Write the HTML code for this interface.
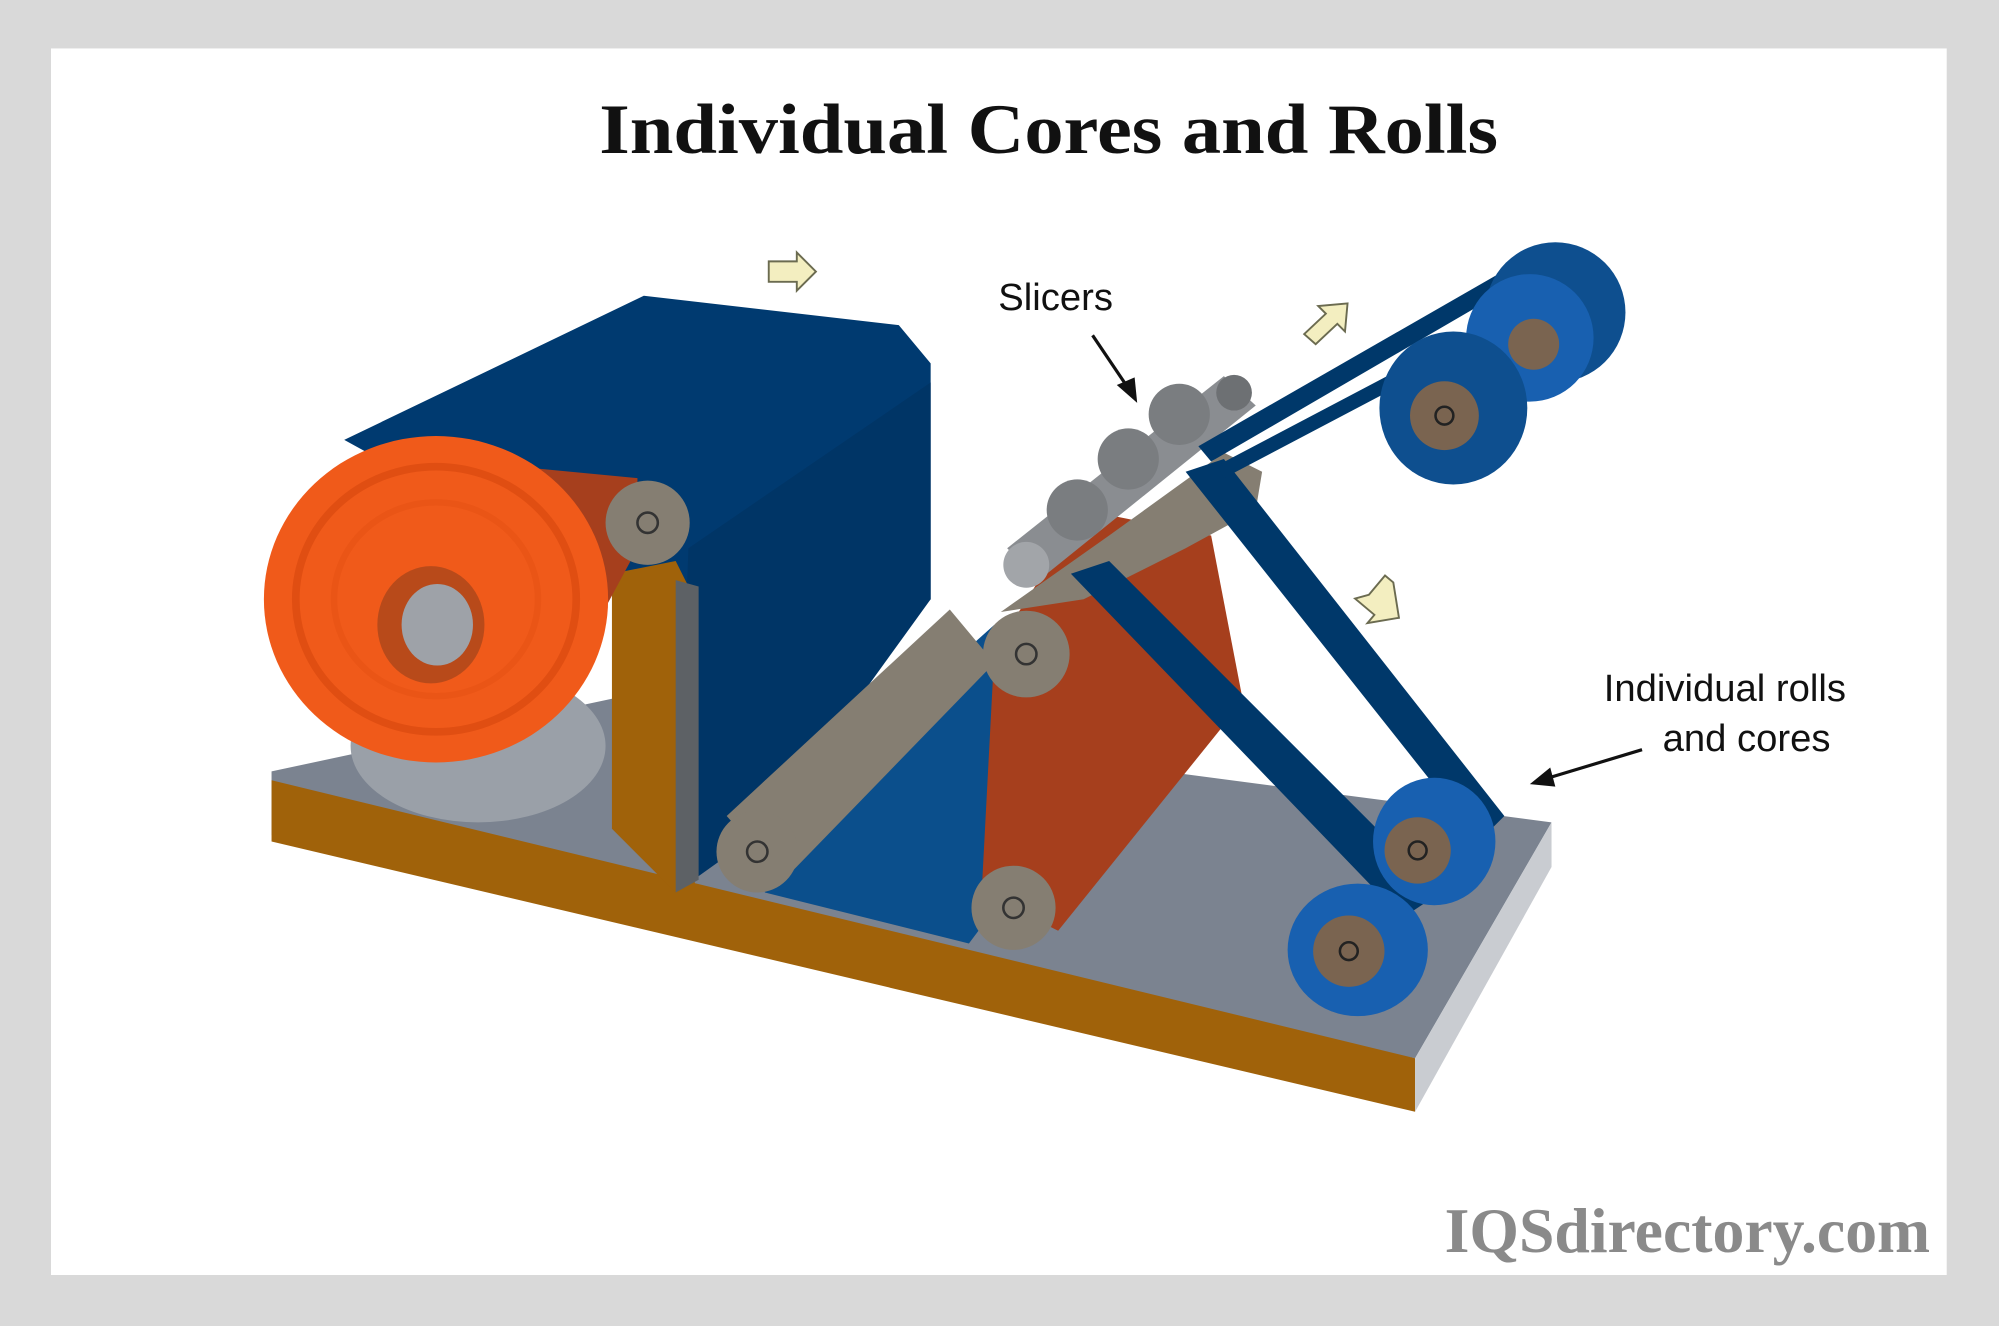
<!DOCTYPE html>
<html><head><meta charset="utf-8"><style>
html,body{margin:0;padding:0;background:#d9d9d9;}
svg{display:block}
</style></head><body>
<svg width="1999" height="1326" viewBox="0 0 1568 1040" preserveAspectRatio="none" xmlns="http://www.w3.org/2000/svg">
<rect x="0" y="0" width="1568" height="1040" fill="#d9d9d9"/>
<rect x="40" y="38" width="1487" height="962" fill="#ffffff"/>
<text x="470" y="120" textLength="705" lengthAdjust="spacingAndGlyphs" font-family="Liberation Serif, serif" font-weight="bold" font-size="56" fill="#111">Individual Cores and Rolls</text>

<!-- base -->
<polygon points="213,605 480,548 1217,645 1110,830 213,655" fill="#7b8390"/>
<polygon points="213,612 1110,830 1110,872 213,660" fill="#a0620a"/>
<polygon points="1110,830 1217,645 1217,680 1110,872" fill="#c9ccd1"/>

<!-- big blue body -->
<polygon points="270,345 505,232 705,255 730,285 730,470 560,640 530,700 480,460" fill="#003a70"/>
<polygon points="540,430 730,300 730,470 600,650 530,700" fill="#003566"/>
<!-- support block -->
<polygon points="480,450 530,440 545,470 545,700 530,700 480,650" fill="#a0620a"/>
<polygon points="530,455 548,460 548,690 530,700" fill="#5d6165"/>
<!-- gray shadow under roll -->
<ellipse cx="375" cy="585" rx="100" ry="60" fill="#9aa0a8"/>
<!-- orange sheet to top roller -->
<polygon points="290,355 500,375 500,430 430,560" fill="#a63f1d"/>
<!-- big orange roll -->
<ellipse cx="342" cy="470" rx="135" ry="128" fill="#f05a1a"/>
<ellipse cx="342" cy="470" rx="110" ry="104" fill="none" stroke="#e04e12" stroke-width="6"/>
<ellipse cx="342" cy="470" rx="80" ry="76" fill="none" stroke="#ea5516" stroke-width="5"/>
<ellipse cx="338" cy="490" rx="42" ry="46" fill="#b84a1a"/>
<ellipse cx="343" cy="490" rx="28" ry="32" fill="#9ea2a8"/>
<!-- top roller -->
<circle cx="508" cy="410" r="33" fill="#857e72"/>
<circle cx="508" cy="410" r="8" fill="none" stroke="#333" stroke-width="2"/>

<!-- blue sheet lower -->
<polygon points="590,660 780,490 790,700 760,740 600,700" fill="#0b4f8c"/>
<!-- lower left roller cylinder -->
<polygon points="570,640 745,478 780,520 615,690" fill="#857e72"/>
<circle cx="594" cy="668" r="32" fill="#857e72"/>
<circle cx="594" cy="668" r="8" fill="none" stroke="#333" stroke-width="2"/>
<!-- orange sheet mid -->
<polygon points="780,510 850,400 950,420 975,550 830,730 770,700" fill="#a63f1d"/>
<polygon points="785,480 870,420 960,355 990,370 985,400 930,430 850,470" fill="#857e72"/>
<!-- roller bottom middle -->
<circle cx="795" cy="712" r="33" fill="#857e72"/>
<circle cx="795" cy="712" r="8" fill="none" stroke="#333" stroke-width="2"/>
<circle cx="805" cy="513" r="34" fill="#857e72"/>
<circle cx="805" cy="513" r="8" fill="none" stroke="#333" stroke-width="2"/>

<!-- slicer shaft -->
<polygon points="790,430 960,295 985,318 815,455" fill="#8a8d91"/>
<circle cx="805" cy="443" r="18" fill="#a2a5a9"/>
<circle cx="845" cy="400" r="24" fill="#7a7d80"/>
<circle cx="885" cy="360" r="24" fill="#7a7d80"/>
<circle cx="925" cy="325" r="24" fill="#7a7d80"/>
<circle cx="968" cy="308" r="14" fill="#6d7073"/>

<!-- blue straps -->
<g fill="#00386a">
<polygon points="840,450 870,440 1130,700 1100,720"/>
<polygon points="930,370 960,360 1180,640 1160,660"/>
<polygon points="940,350 1210,195 1220,205 950,362"/>
<polygon points="955,365 1240,215 1245,225 960,375"/>
</g>

<!-- top-right rolls -->
<ellipse cx="1220" cy="245" rx="55" ry="55" fill="#0e4f8f"/>
<ellipse cx="1200" cy="265" rx="50" ry="50" fill="#1860b0"/>
<circle cx="1203" cy="270" r="20" fill="#7a6450"/>
<ellipse cx="1140" cy="320" rx="58" ry="60" fill="#0e4f8f"/>
<circle cx="1133" cy="326" r="27" fill="#7a6450"/>
<circle cx="1133" cy="326" r="7" fill="none" stroke="#222" stroke-width="2"/>

<!-- bottom-right rolls -->
<ellipse cx="1125" cy="660" rx="48" ry="50" fill="#1860b0"/>
<circle cx="1112" cy="667" r="26" fill="#7a6450"/>
<circle cx="1112" cy="667" r="7" fill="none" stroke="#222" stroke-width="2"/>
<ellipse cx="1065" cy="745" rx="55" ry="52" fill="#1860b0"/>
<circle cx="1058" cy="746" r="28" fill="#7a6450"/>
<circle cx="1058" cy="746" r="7" fill="none" stroke="#222" stroke-width="2"/>

<!-- yellow arrows -->
<g fill="#f3eec0" stroke="#6b6b50" stroke-width="1.5">
<polygon points="603,205 625,205 625,198 640,213 625,228 625,221 603,221"/>
<polygon points="1023,262 1040,246 1034,240 1057,238 1055,260 1049,254 1032,270"/>
<polygon points="1074,466 1088,452 1094,458 1096,486 1071,488 1077,482 1063,468" transform="rotate(-5 1080 470)"/>
</g>

<!-- labels -->
<text x="828" y="243" text-anchor="middle" font-family="Liberation Sans, sans-serif" font-size="30" fill="#111">Slicers</text>
<line x1="857" y1="263" x2="884" y2="303" stroke="#111" stroke-width="2.5"/>
<polygon points="892,316 876,302 890,296" fill="#111"/>
<text x="1353" y="550" text-anchor="middle" font-family="Liberation Sans, sans-serif" font-size="30" fill="#111">Individual rolls</text>
<text x="1370" y="589" text-anchor="middle" font-family="Liberation Sans, sans-serif" font-size="30" fill="#111">and cores</text>
<line x1="1288" y1="588" x2="1215" y2="610" stroke="#111" stroke-width="2.5"/>
<polygon points="1200,615 1216,602 1220,617" fill="#111"/>

<text x="1514" y="982" text-anchor="end" font-family="Liberation Serif, serif" font-weight="bold" font-size="50" fill="#8a8a8a">IQSdirectory.com</text>
</svg>
</body></html>
